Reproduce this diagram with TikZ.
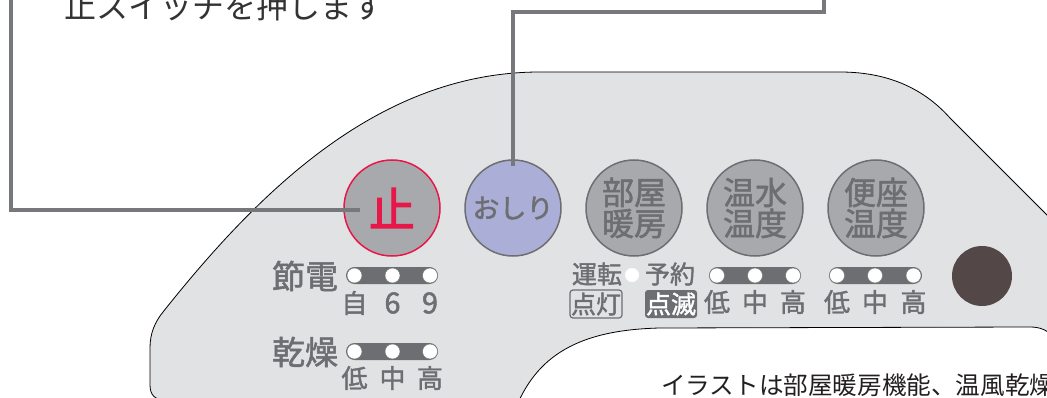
\documentclass[tikz,border=0pt]{standalone}
\usepackage{fontspec}
\setmainfont{Noto Sans CJK JP}
\newfontfamily\jpb{Noto Sans CJK JP}[FakeBold=1.6]
\newfontfamily\jpbb{Noto Sans CJK JP}[FakeBold=2.5]
\definecolor{panel}{HTML}{E1E2E4}
\definecolor{btngray}{HTML}{A7A9AC}
\definecolor{txtgray}{HTML}{6D6E71}
\definecolor{linegray}{HTML}{77787B}
\definecolor{stopred}{HTML}{E8174A}
\definecolor{lav}{HTML}{ABAED6}
\definecolor{brownbtn}{HTML}{534847}
\definecolor{ink}{HTML}{231F20}
\definecolor{ink2}{HTML}{333333}
\tikzset{
  btn/.style={circle, minimum size=96pt, inner sep=0pt, fill=btngray, draw=txtgray, line width=1.5pt, text=txtgray, align=center, font=\jpb\fontsize{32}{32}\selectfont},
  conn/.style={draw=linegray, line width=4pt},
  strip/.style={fill=txtgray, rounded corners=8.5pt},
  led/.style={circle, fill=white, draw=txtgray, line width=0.4pt, minimum size=15pt, inner sep=0pt},
  biglbl/.style={text=txtgray, inner sep=0pt, font=\jpb\fontsize{33}{33}\selectfont},
  midlbl/.style={text=txtgray, inner sep=0pt, font=\jpb\fontsize{25}{25}\selectfont},
  smalllbl/.style={text=txtgray, inner sep=0pt, font=\jpb\fontsize{26}{26}\selectfont},
  tagbox/.style={rounded corners=3pt, minimum width=52pt, minimum height=28pt, inner sep=0pt, font=\jpb\fontsize{25}{25}\selectfont}
}
\begin{document}
\begin{tikzpicture}[x=1pt,y=-1pt]
\useasboundingbox (0,0) rectangle (1047,398);
\clip (0,0) rectangle (1047,398);
\fill[white] (0,0) rectangle (1047,398);
% panel
\filldraw[fill=panel, draw=black, line width=0.8pt]
  (520,400) -- (165,400) .. controls (155,400) and (150,395) .. (150,385)
  -- (150,348) .. controls (150,333) and (155,322) .. (163,312)
  .. controls (260,190) and (380,72) .. (540,72) -- (840,72)
  .. controls (890,72) and (925,90) .. (950,118) -- (1070,238) -- (1070,430) -- (520,430) -- cycle;
% white cut-out
\filldraw[fill=white, draw=black, line width=0.8pt]
  (508,430) -- (512,418) .. controls (532,360) and (572,330) .. (660,328)
  -- (1030,327) .. controls (1040,327) and (1047,330) .. (1052,336) -- (1052,430) -- cycle;
% buttons
\node[btn, draw=stopred, text=stopred, font=\jpbb\fontsize{46}{46}\selectfont] (stop) at (392,208) {止};
\node[btn, fill=lav, font=\jpb\fontsize{27}{27}\selectfont] (oshiri) at (513,208) {おしり};
\node[btn] (room) at (634,208) {部屋\\[-1pt]暖房};
\node[btn] (water) at (755,208) {温水\\[-1pt]温度};
\node[btn] (seat) at (876,208) {便座\\[-1pt]温度};
\node[circle, minimum size=60pt, inner sep=0pt, fill=brownbtn] (lamp) at (982,276) {};
% connectors
\coordinate (c1) at (10.5,-5);
\coordinate (stopin) at ([xshift=17pt,yshift=-2pt]stop.west);
\draw[conn] (c1) |- (stopin);
\coordinate (oshin) at ([yshift=-7pt]oshiri.north);
\coordinate (c2m) at (824,12.5);
\coordinate (c2) at (824,-5);
\draw[conn] (oshin) -- (oshin |- c2m) -| (c2);
% top text
\node[anchor=base west, inner sep=0pt, text=ink2, font=\fontsize{32}{32}\selectfont] (toptext) at (64,19) {止スイッチを押します};
% setsuden
\node[biglbl] (setsuden) at (305,276) {節電};
\fill[strip] (346,267) rectangle (438,284);
\node[led] (s1) at (354.5,275.5) {};
\node[led] (s2) at (392.5,275.5) {};
\node[led] (s3) at (430,275.5) {};
\node[smalllbl] (s1l) at (354.5,303) {自};
\node[smalllbl, font=\jpb\fontsize{29}{29}\selectfont] (s2l) at (392.5,303) {6};
\node[smalllbl, font=\jpb\fontsize{29}{29}\selectfont] (s3l) at (430,303) {9};
% kansou
\node[biglbl] (kansou) at (305,352) {乾燥};
\fill[strip] (346,343) rectangle (438,360);
\node[led] (k1) at (354.5,351.5) {};
\node[led] (k2) at (392.5,351.5) {};
\node[led] (k3) at (430,351.5) {};
\node[smalllbl] (k1l) at (354.5,378) {低};
\node[smalllbl] (k2l) at (392.5,378) {中};
\node[smalllbl] (k3l) at (430,378) {高};
% unten / yoyaku
\node[midlbl] (unten) at (597,274) {運転};
\node[circle, fill=white, minimum size=14pt, inner sep=0pt] (udot) at (632,275) {};
\node[midlbl] (yoyaku) at (670,274) {予約};
\node[tagbox, draw=txtgray, line width=1.2pt, text=txtgray] (tento) at (596,304) {点灯};
\node[tagbox, fill=txtgray, text=white] (tenmetsu) at (671,304) {点滅};
% water strip
\fill[strip] (709,267) rectangle (801,284);
\node[led] (w1) at (717,275.5) {};
\node[led] (w2) at (755,275.5) {};
\node[led] (w3) at (793,275.5) {};
\node[smalllbl] (w1l) at (717,302) {低};
\node[smalllbl] (w2l) at (755,302) {中};
\node[smalllbl] (w3l) at (793,302) {高};
% seat strip
\fill[strip] (829,267) rectangle (922,284);
\node[led] (z1) at (837,275.5) {};
\node[led] (z2) at (875,275.5) {};
\node[led] (z3) at (913.5,275.5) {};
\node[smalllbl] (z1l) at (837,302) {低};
\node[smalllbl] (z2l) at (875,302) {中};
\node[smalllbl] (z3l) at (913.5,302) {高};
% note
\node[anchor=base west, inner sep=0pt, text=ink, font=\fontsize{24.6}{24.6}\selectfont] (note) at (661,394) {イラストは部屋暖房機能、温風乾燥機能};
\end{tikzpicture}
\end{document}
